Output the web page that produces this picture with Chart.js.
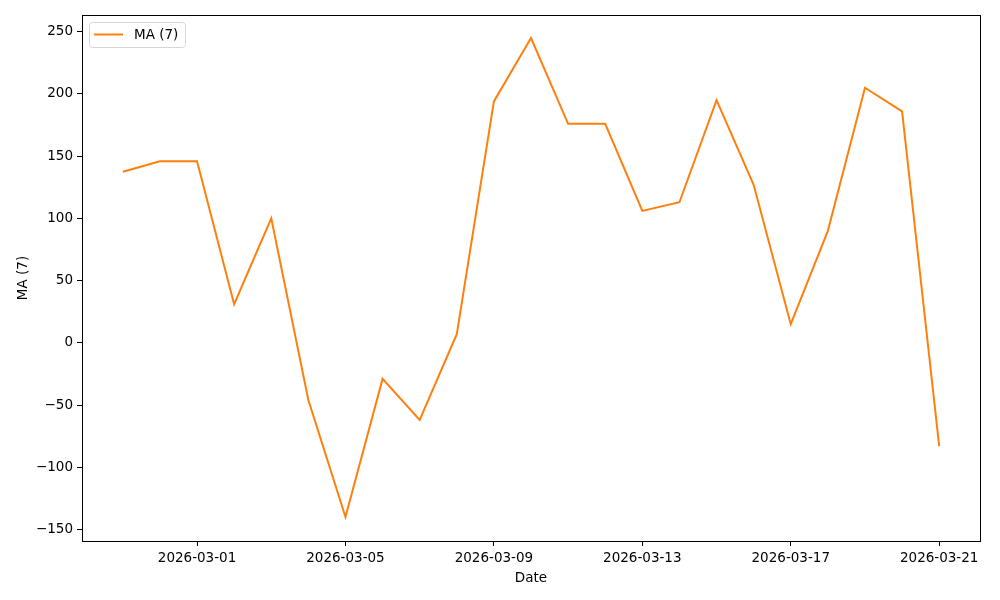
<!DOCTYPE html>
<html>
<head>
<meta charset="utf-8">
<script src="https://cdn.jsdelivr.net/npm/chart.js@4/dist/chart.umd.min.js"></script>
<style>
  html, body { margin: 0; padding: 0; background: #fff; }
  #wrap { width: 1000px; height: 600px; }
</style>
</head>
<body>
<div id="wrap"><canvas id="maChart" width="1000" height="600"></canvas></div>
<script>
// days from 2026-02-27 to 2026-03-21
const dates = [
  "2026-02-27", "2026-02-28", "2026-03-01", "2026-03-02", "2026-03-03", "2026-03-04",
  "2026-03-05", "2026-03-06", "2026-03-07", "2026-03-08", "2026-03-09", "2026-03-10",
  "2026-03-11", "2026-03-12", "2026-03-13", "2026-03-14", "2026-03-15", "2026-03-16",
  "2026-03-17", "2026-03-18", "2026-03-19", "2026-03-20", "2026-03-21"
];
const maValues = [
  137.5, 146, 146, 31, 100, -46,
  -140, -29, -62, 7, 194, 245,
  176, 176, 106, 113, 195, 127,
  15, 90, 205, 186, -83
];
const xTickDates = ["2026-03-01", "2026-03-05", "2026-03-09", "2026-03-13", "2026-03-17", "2026-03-21"];
const yTicks = [-150, -100, -50, 0, 50, 100, 150, 200, 250];

const font = { family: "DejaVu Sans", size: 13.5 };
const points = maValues.map((v, i) => ({ x: i, y: v }));

// frame + legend like matplotlib
const framePlugin = {
  id: "frame",
  afterDraw(chart) {
    const { ctx, chartArea: a } = chart;
    ctx.save();
    ctx.strokeStyle = "#000";
    ctx.lineWidth = 1;
    ctx.strokeRect(Math.round(a.left) + 0.5, Math.round(a.top) + 0.5,
      Math.round(a.right - a.left), Math.round(a.bottom - a.top));

    // legend box
    const x = a.left + 7, y = a.top + 7, w = 96, h = 25, r = 3;
    ctx.beginPath();
    ctx.roundRect(x + 0.5, y + 0.5, w, h, r);
    ctx.fillStyle = "rgba(255,255,255,0.8)";
    ctx.fill();
    ctx.strokeStyle = "#d6d6d6";
    ctx.stroke();
    ctx.beginPath();
    ctx.moveTo(x + 5, y + 12.5);
    ctx.lineTo(x + 34, y + 12.5);
    ctx.strokeStyle = "#ff7f0e";
    ctx.lineWidth = 2;
    ctx.stroke();
    ctx.fillStyle = "#000";
    ctx.font = font.size + "px " + font.family;
    ctx.textBaseline = "middle";
    ctx.fillText("MA (7)", x + 45, y + 13);
    ctx.restore();
  }
};

new Chart(document.getElementById("maChart"), {
  type: "line",
  data: {
    datasets: [{
      label: "MA (7)",
      data: points,
      borderColor: "#ff7f0e",
      backgroundColor: "#ff7f0e",
      borderWidth: 2,
      pointRadius: 0,
      tension: 0,
    }],
  },
  options: {
    responsive: false,
    animation: false,
    layout: { padding: { left: 15, right: 20, top: 15, bottom: 13 } },
    plugins: {
      legend: { display: false },
      tooltip: { enabled: false },
    },
    scales: {
      x: {
        type: "linear",
        min: -1.1,
        max: 23.1,
        afterBuildTicks(scale) {
          scale.ticks = xTickDates.map(d => ({ value: dates.indexOf(d) }));
        },
        afterFit(scale) { scale.height = 46; },
        ticks: {
          color: "#000",
          font: font,
          maxRotation: 0,
          autoSkip: false,
          padding: 4,
          callback: v => dates[v],
        },
        grid: { drawOnChartArea: false, drawTicks: true, tickLength: 5, color: "#000" },
        border: { display: true, color: "#000" },
        title: { display: true, text: "Date", color: "#000", font: font, padding: 0 },
      },
      y: {
        min: -159.3,
        max: 263.5,
        afterBuildTicks(scale) {
          scale.ticks = yTicks.map(v => ({ value: v }));
        },
        afterFit(scale) { scale.width = 67; },
        ticks: {
          color: "#000",
          font: font,
          padding: 4,
          callback: v => String(v).replace("-", "\u2212"),
        },
        grid: { drawOnChartArea: false, drawTicks: true, tickLength: 5, color: "#000" },
        border: { display: true, color: "#000" },
        title: { display: true, text: "MA (7)", color: "#000", font: font, padding: 0 },
      },
    },
  },
  plugins: [framePlugin],
});
</script>
</body>
</html>
